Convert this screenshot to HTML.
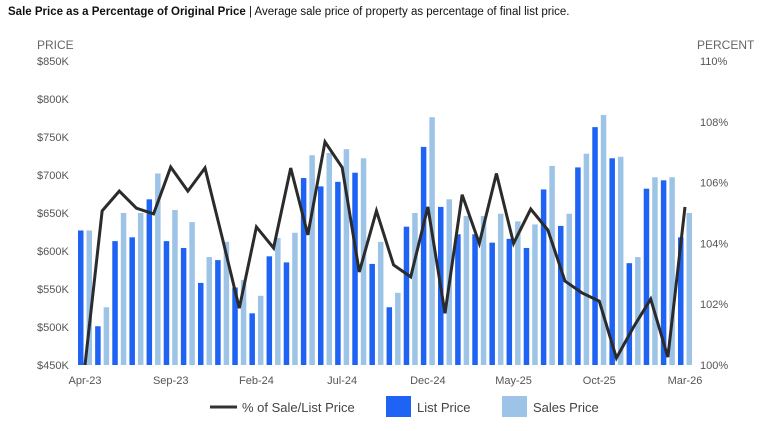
<!DOCTYPE html>
<html><head><meta charset="utf-8"><style>
body{margin:0;background:#fff;font-family:"Liberation Sans",Arial,sans-serif;}
svg text{font-family:"Liberation Sans",Arial,sans-serif;}
</style></head><body>
<svg id="chart" width="772" height="426" viewBox="0 0 772 426">
<text x="8" y="15" font-size="11.5" fill="#111"><tspan font-weight="bold">Sale Price as a Percentage of Original Price</tspan> | Average sale price of property as percentage of final list price.</text>
<text x="37" y="49" font-size="12" fill="#666">PRICE</text>
<text x="697" y="49" font-size="12" fill="#666">PERCENT</text>
<g id="ticks"></g><g id="bars"></g><g id="line"></g>
<g>
<line x1="210" y1="407" x2="237" y2="407" stroke="#333" stroke-width="3"/>
<text x="242" y="412" font-size="13" fill="#444">% of Sale/List Price</text>
<rect x="386" y="396" width="25" height="21" fill="#1f63f5"/>
<text x="417" y="412" font-size="13" fill="#444">List Price</text>
<rect x="502" y="396" width="25" height="21" fill="#9dc3e6"/>
<text x="533" y="412" font-size="13" fill="#444">Sales Price</text>
</g>
</svg>
<script>
const months=["Apr-23","May-23","Jun-23","Jul-23","Aug-23","Sep-23","Oct-23","Nov-23","Dec-23","Jan-24","Feb-24","Mar-24","Apr-24","May-24","Jun-24","Jul-24","Aug-24","Sep-24","Oct-24","Nov-24","Dec-24","Jan-25","Feb-25","Mar-25","Apr-25","May-25","Jun-25","Jul-25","Aug-25","Sep-25","Oct-25","Nov-25","Dec-25","Jan-26","Feb-26","Mar-26"];
const listPrice=[627,501,613,618,668,613,604,558,588,552,518,593,585,696,685,691,703,583,526,632,737,658,622,622,611,616,604,681,633,710,763,722,584,682,693,618];
const salesPrice=[627,526,650,650,702,654,638,592,612,562,541,617,624,726,729,734,722,612,545,650,776,668,646,646,649,639,635,712,649,728,779,724,592,697,697,650];
const pct=[100.0,105.07,105.72,105.16,104.97,106.51,105.72,106.48,104.2,101.87,104.54,103.85,106.48,104.28,107.34,106.5,103.06,105.07,103.29,102.9,105.2,101.7,105.6,104.0,106.3,104.0,105.13,104.44,102.76,102.37,102.1,100.23,101.25,102.17,100.26,105.2];
const priceTicks=[450,500,550,600,650,700,750,800,850];
const pctTicks=[100,102,104,106,108,110];
const xLabelIdx=[0,5,10,15,20,25,30,35];
const NS="http://www.w3.org/2000/svg";
const xS=i=>85+i*(600/35);
const yP=v=>365-(v-450)*304/400;
const yR=v=>365-(v-100)*30.4;
function mk(t,a,p){const e=document.createElementNS(NS,t);for(const k in a)e.setAttribute(k,a[k]);p.appendChild(e);return e;}
const tg=document.getElementById('ticks');
priceTicks.forEach(v=>{const t=mk('text',{x:37,y:yP(v)+4,'font-size':11,fill:'#555'},tg);t.textContent='$'+v+'K';

});
pctTicks.forEach(v=>{const t=mk('text',{x:700,y:yR(v)+4,'font-size':11,fill:'#555'},tg);t.textContent=v+'%';

});
xLabelIdx.forEach(i=>{const t=mk('text',{x:xS(i),y:384,'font-size':11,fill:'#555','text-anchor':'middle'},tg);t.textContent=months[i];

});
const bg=document.getElementById('bars');
months.forEach((m,i)=>{
const c=xS(i);
const a=mk('rect',{x:c-7,y:yP(listPrice[i]),width:5.5,height:365-yP(listPrice[i]),fill:'#1f63f5'},bg);


const b=mk('rect',{x:c+1.5,y:yP(salesPrice[i]),width:5.5,height:365-yP(salesPrice[i]),fill:'#9dc3e6'},bg);


});
const lg=document.getElementById('line');
const p=mk('polyline',{points:pct.map((v,i)=>xS(i)+','+yR(v)).join(' '),fill:'none',stroke:'#2b2b2b','stroke-width':3,'stroke-linejoin':'miter'},lg);


</script>
</body></html>
